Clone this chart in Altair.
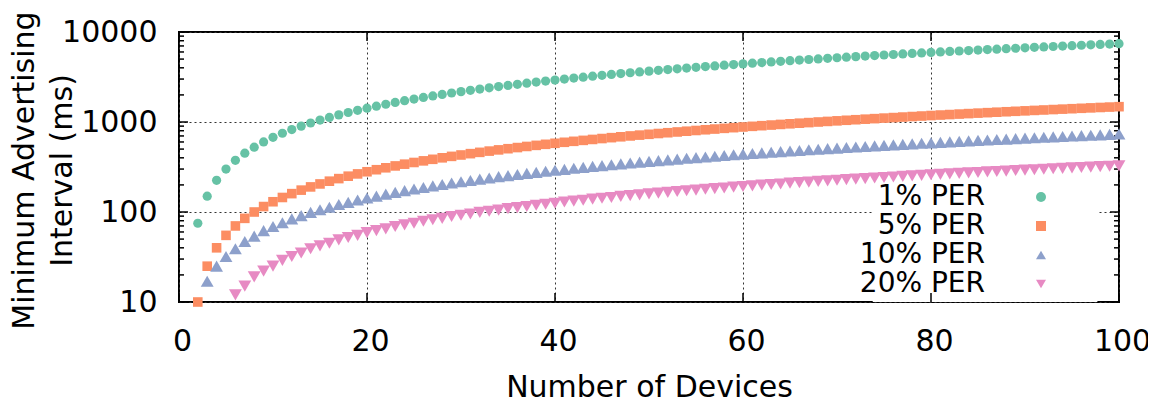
import altair as alt
import pandas as pd

series_labels = ["1% PER", "5% PER", "10% PER", "20% PER"]
series_colors = ["#66c2a5", "#fc8d62", "#8da0cb", "#e78ac3"]
series_shapes = ["circle", "square", "triangle-up", "triangle-down"]
series_sizes = [85, 92, 165, 165]

# Minimum advertising interval (ms), N = first device count .. 100
interval_1 = [75, 150, 225, 300, 375, 450, 525, 600, 675, 750, 825, 900, 975, 1050, 1125, 1200, 1275, 1350, 1425,
              1500, 1575, 1650, 1725, 1800, 1875, 1950, 2025, 2100, 2175, 2250, 2325, 2400, 2475, 2550, 2625, 2700,
              2775, 2850, 2925, 3000, 3075, 3150, 3225, 3300, 3375, 3450, 3525, 3600, 3675, 3750, 3825, 3900, 3975,
              4050, 4125, 4200, 4275, 4350, 4425, 4500, 4575, 4650, 4725, 4800, 4875, 4950, 5025, 5100, 5175, 5250,
              5325, 5400, 5475, 5550, 5625, 5700, 5775, 5850, 5925, 6000, 6075, 6150, 6225, 6300, 6375, 6450, 6525,
              6600, 6675, 6750, 6825, 6900, 6975, 7050, 7125, 7200, 7275, 7350, 7425]
interval_5 = [10, 25, 40, 55, 70, 85, 100, 115, 130, 145, 160, 175, 190, 205, 220, 235, 250, 265, 280,
              295, 310, 325, 340, 355, 370, 385, 400, 415, 430, 445, 460, 475, 490, 505, 520, 535, 550, 565, 580,
              595, 610, 625, 640, 655, 670, 685, 700, 715, 730, 745, 760, 775, 790, 805, 820, 835, 850, 865, 880,
              895, 910, 925, 940, 955, 970, 985, 1000, 1015, 1030, 1045, 1060, 1075, 1090, 1105, 1120, 1135, 1150,
              1165, 1180, 1195, 1210, 1225, 1240, 1255, 1270, 1285, 1300, 1315, 1330, 1345, 1360, 1375, 1390, 1405,
              1420, 1435, 1450, 1465, 1480]
interval_10 = [17, 25, 32, 39, 47, 54, 62, 69, 76, 84, 91, 99, 106, 113, 121, 128, 136, 143,
               150, 158, 165, 173, 180, 187, 195, 202, 210, 217, 224, 232, 239, 247, 254, 261, 269, 276, 284, 291,
               298, 306, 313, 321, 328, 335, 343, 350, 358, 365, 372, 380, 387, 395, 402, 409, 417, 424, 432, 439,
               446, 454, 461, 469, 476, 483, 491, 498, 506, 513, 520, 528, 535, 543, 550, 557, 565, 572, 580, 587,
               594, 602, 609, 617, 624, 631, 639, 646, 654, 661, 668, 676, 683, 691, 698, 705, 713, 720, 728, 735]
interval_20 = [12, 15, 19, 22, 25, 29, 32, 35, 39, 42, 45, 49, 52, 55, 59,
               62, 65, 69, 72, 75, 79, 82, 85, 89, 92, 95, 99, 102, 105, 109, 112, 115, 119, 122, 125,
               129, 132, 135, 139, 142, 145, 149, 152, 155, 159, 162, 165, 169, 172, 175, 179, 182, 185, 189, 192,
               195, 199, 202, 205, 209, 212, 215, 219, 222, 225, 229, 232, 235, 239, 242, 245, 249, 252, 255, 259,
               262, 265, 269, 272, 275, 279, 282, 285, 289, 292, 295, 299, 302, 305, 309, 312, 315, 319, 322, 325]

devices_1 = list(range(2, 2 + len(interval_1)))
devices_5 = list(range(2, 2 + len(interval_5)))
devices_10 = list(range(3, 3 + len(interval_10)))
devices_20 = list(range(6, 6 + len(interval_20)))

x_ticks = [0, 20, 40, 60, 80, 100]
y_ticks = [10, 100, 1000, 10000]
y_minor = [20, 30, 40, 50, 60, 70, 80, 90, 200, 300, 400, 500, 600, 700, 800, 900,
           2000, 3000, 4000, 5000, 6000, 7000, 8000, 9000]

# legend box (masks the grid behind the key), in data units
key_box_x = [73.8]
key_box_x2 = [97.7]
key_box_y = [10]
key_box_y2 = [230]

W, H = 940, 270
FONT = "DejaVu Sans"

xscale = alt.Scale(domain=[0, 100], nice=False, zero=False)
yscale = alt.Scale(type="log", domain=[10, 10000], nice=False)

x_axis = alt.Axis(values=x_ticks, title="Number of Devices", labelPadding=24, labelFlush=False,
                  labelOffset=3, titleY=85, titleBaseline="middle")
y_axis = alt.Axis(values=y_ticks, format="d", title=["Minimum Advertising", "Interval (ms)"],
                  labelPadding=22, labelFlush=False, titleAngle=270, titleX=-155, titleY=138,
                  titleAlign="center", titleBaseline="middle", titleLineHeight=38)


def xenc(field):
    return alt.X(field, type="quantitative", scale=xscale, axis=x_axis)


def yenc(field):
    return alt.Y(field, type="quantitative", scale=yscale, axis=y_axis)


key_box = alt.Chart(pd.DataFrame({"x": key_box_x, "x2": key_box_x2, "y": key_box_y, "y2": key_box_y2})).mark_rect(
    color="white", opacity=1
).encode(x=xenc("x"), x2="x2", y=yenc("y"), y2="y2")

legend = alt.Legend(title=None, orient="none", legendX=848, legendY=151, padding=0,
                    labelFont=FONT, labelFontSize=28, labelColor="black",
                    labelAlign="right", labelOffset={"expr": "-70"}, symbolSize=100, symbolStrokeWidth=0,
                    rowPadding=1)

color_enc = alt.Color("series:N", scale=alt.Scale(domain=series_labels, range=series_colors), legend=legend)
shape_enc = alt.Shape("series:N", scale=alt.Scale(domain=series_labels, range=series_shapes), legend=legend)

series_layers = []
for i, (xs, ys) in enumerate(zip([devices_1, devices_5, devices_10, devices_20],
                                 [interval_1, interval_5, interval_10, interval_20])):
    d = pd.DataFrame({"N": xs, "ms": ys, "series": series_labels[i]})
    series_layers.append(
        alt.Chart(d).mark_point(filled=True, opacity=1, strokeWidth=0, size=series_sizes[i]).encode(
            x=xenc("N"), y=yenc("ms"), color=color_enc, shape=shape_enc
        )
    )

ymaj = pd.DataFrame({"v": y_ticks})
ymin = pd.DataFrame({"v": y_minor})
xmaj = pd.DataFrame({"v": x_ticks})

tick_layers = [
    alt.Chart(ymaj).mark_rule(color="black", strokeWidth=1.5).encode(y=yenc("v"), x=alt.value(0), x2=alt.value(9)),
    alt.Chart(ymaj).mark_rule(color="black", strokeWidth=1.5).encode(y=yenc("v"), x=alt.value(W), x2=alt.value(W - 9)),
    alt.Chart(ymin).mark_rule(color="black", strokeWidth=1.5).encode(y=yenc("v"), x=alt.value(0), x2=alt.value(5)),
    alt.Chart(ymin).mark_rule(color="black", strokeWidth=1.5).encode(y=yenc("v"), x=alt.value(W), x2=alt.value(W - 5)),
    alt.Chart(xmaj).mark_rule(color="black", strokeWidth=1.5).encode(x=xenc("v"), y=alt.value(H), y2=alt.value(H - 9)),
    alt.Chart(xmaj).mark_rule(color="black", strokeWidth=1.5).encode(x=xenc("v"), y=alt.value(0), y2=alt.value(9)),
]

chart = alt.layer(key_box, *tick_layers, *series_layers).properties(
    width=W, height=H,
    autosize=alt.AutoSizeParams(type="none"),
    padding={"left": 171, "top": 24, "right": 29, "bottom": 100},
).configure_view(
    stroke="black", strokeWidth=2
).configure_axis(
    domain=False, ticks=False, grid=True, gridColor="#333333", gridDash=[2, 3], gridWidth=1,
    labelFont=FONT, labelFontSize=30, labelColor="black",
    titleFont=FONT, titleFontSize=30, titleFontWeight="normal", titleColor="black",
)

chart.save("out.html", embed_options={"renderer": "svg", "actions": False})
